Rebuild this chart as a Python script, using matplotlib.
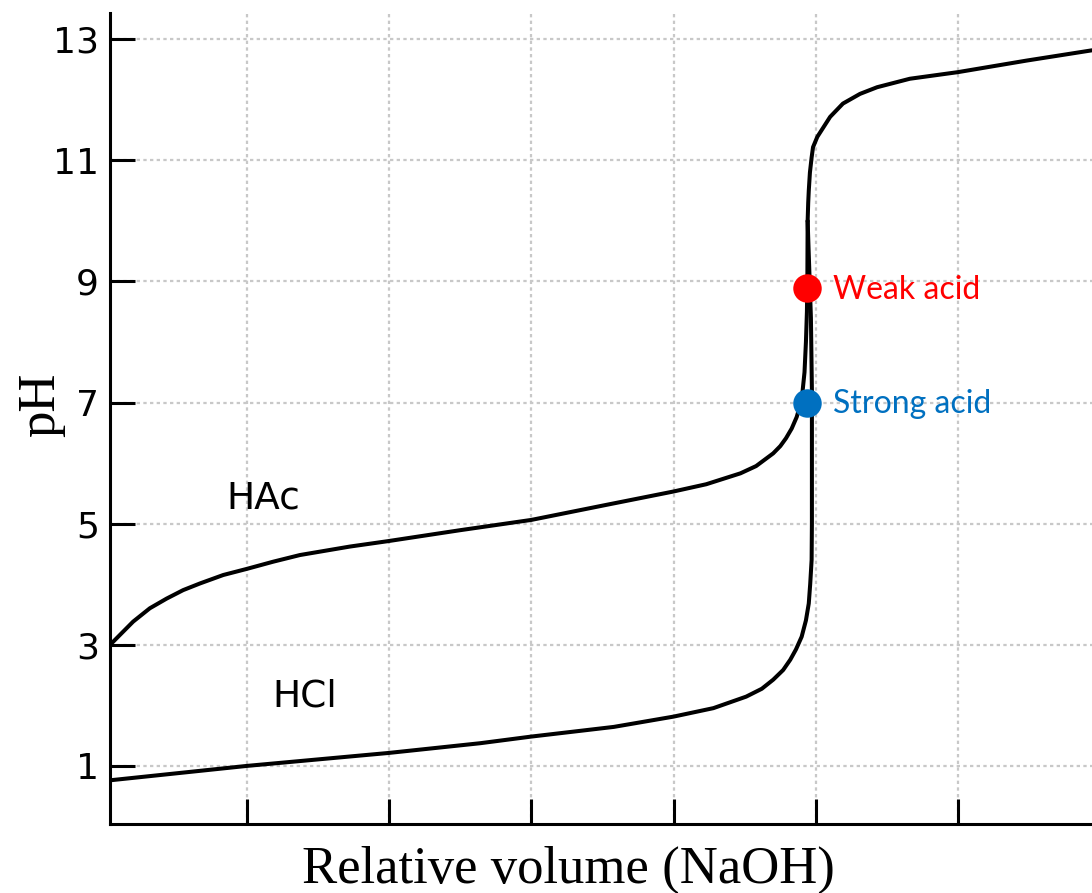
import matplotlib
matplotlib.use("Agg")
import matplotlib.pyplot as plt

# ---- data ----
# weak acid (HAc) titration curve, up to the equivalence jump
hac_x = [0.051, 0.110, 0.203, 0.320, 0.438, 0.554, 0.672, 0.836, 1.000, 1.187, 1.375,
         1.726, 1.995, 2.499, 3.00, 3.53, 4.00, 4.23, 4.47, 4.58, 4.70, 4.75, 4.79,
         4.83, 4.865, 4.90, 4.92, 4.93, 4.937, 4.94, 4.942]
hac_ph = [3.02, 3.16, 3.38, 3.60, 3.76, 3.90, 4.01, 4.15, 4.25, 4.37, 4.48,
          4.62, 4.71, 4.89, 5.06, 5.31, 5.53, 5.65, 5.83, 5.95, 6.16, 6.28, 6.41,
          6.57, 6.76, 7.04, 7.50, 8.00, 8.50, 9.00, 10.0]
# strong acid (HCl) titration curve, up to the equivalence jump
hcl_x = [0.05, 1.00, 2.00, 2.64, 3.00, 3.58, 4.00, 4.28, 4.51, 4.62, 4.70, 4.77,
         4.82, 4.86, 4.90, 4.93, 4.95, 4.96, 4.97, 4.972, 4.972, 4.965, 4.952, 4.942]
hcl_ph = [0.76, 0.995, 1.21, 1.37, 1.48, 1.64, 1.81, 1.95, 2.14, 2.27, 2.42, 2.58,
          2.75, 2.92, 3.13, 3.40, 3.68, 4.00, 4.40, 5.00, 7.20, 8.40, 9.30, 10.0]
# shared branch after the equivalence point (excess NaOH)
base_x = [4.942, 4.946, 4.950, 4.958, 4.970, 4.98, 5.01, 5.04, 5.10, 5.19, 5.31,
          5.43, 5.66, 6.00, 6.48, 6.94]
base_ph = [10.0, 10.3, 10.5, 10.8, 11.05, 11.22, 11.39, 11.5, 11.72, 11.94, 12.10,
           12.21, 12.35, 12.46, 12.65, 12.82]

# equivalence points
eq_x = [4.94, 4.94]
eq_ph = [8.89, 7.0]
eq_labels = ["Weak acid", "Strong acid"]
eq_colors = ["#FF0000", "#0070C0"]

curve_labels = ["HAc", "HCl"]
curve_label_pos = [(1.12, 5.41), (1.41, 2.15)]

x_ticks = [1, 2, 3, 4, 5, 6]
y_ticks = [1, 3, 5, 7, 9, 11, 13]

# ---- figure ----
fig = plt.figure(figsize=(10.92, 8.93), dpi=100)
ax = fig.add_axes([0.1007, 0.0773, 0.8993, 0.9077])

grid_kw = dict(color="#c8c8c8", lw=1.6, ls=(0, (1.5, 1.5)), zorder=0)
for xv in x_ticks:
    ax.axvline(xv, **grid_kw)
for yv in y_ticks:
    ax.axhline(yv, **grid_kw)

line_kw = dict(color="black", lw=2.9, solid_capstyle="round", solid_joinstyle="round", zorder=3)
ax.plot(hac_x, hac_ph, **line_kw)
ax.plot(hcl_x, hcl_ph, **line_kw)
ax.plot(base_x, base_ph, **line_kw)

for x, y, lab, c in zip(eq_x, eq_ph, eq_labels, eq_colors):
    ax.plot([x], [y], "o", ms=20.5, color=c, mec="none", zorder=5)
    ax.text(x + 0.18, y - 0.03, lab, color=c, fontsize=23, family="Lato",
            va="center", ha="left", zorder=6)

for lab, (x, y) in zip(curve_labels, curve_label_pos):
    ax.text(x, y, lab, fontsize=27, family="DejaVu Sans", ha="center", va="center", zorder=4)

ax.set_xlim(0.04, 6.94)
ax.set_ylim(0.036, 13.43)
ax.set_xticks(x_ticks)
ax.set_xticklabels([])
ax.set_yticks(y_ticks)
ax.set_yticklabels([str(v) for v in y_ticks])

for s in ["top", "right"]:
    ax.spines[s].set_visible(False)
for s in ["left", "bottom"]:
    ax.spines[s].set_linewidth(2.2)

ax.tick_params(axis="both", direction="in", length=18, width=2.2)
ax.tick_params(axis="y", labelsize=26, pad=8)

ax.set_ylabel("pH", fontsize=38, family="Liberation Serif", va="center")
ax.yaxis.set_label_coords(-0.070, 0.517)
ax.set_xlabel("Relative volume (NaOH)", fontsize=38, family="Liberation Serif", va="center")
ax.xaxis.set_label_coords(0.467, -0.057)

fig.savefig("out.png", dpi=100)
